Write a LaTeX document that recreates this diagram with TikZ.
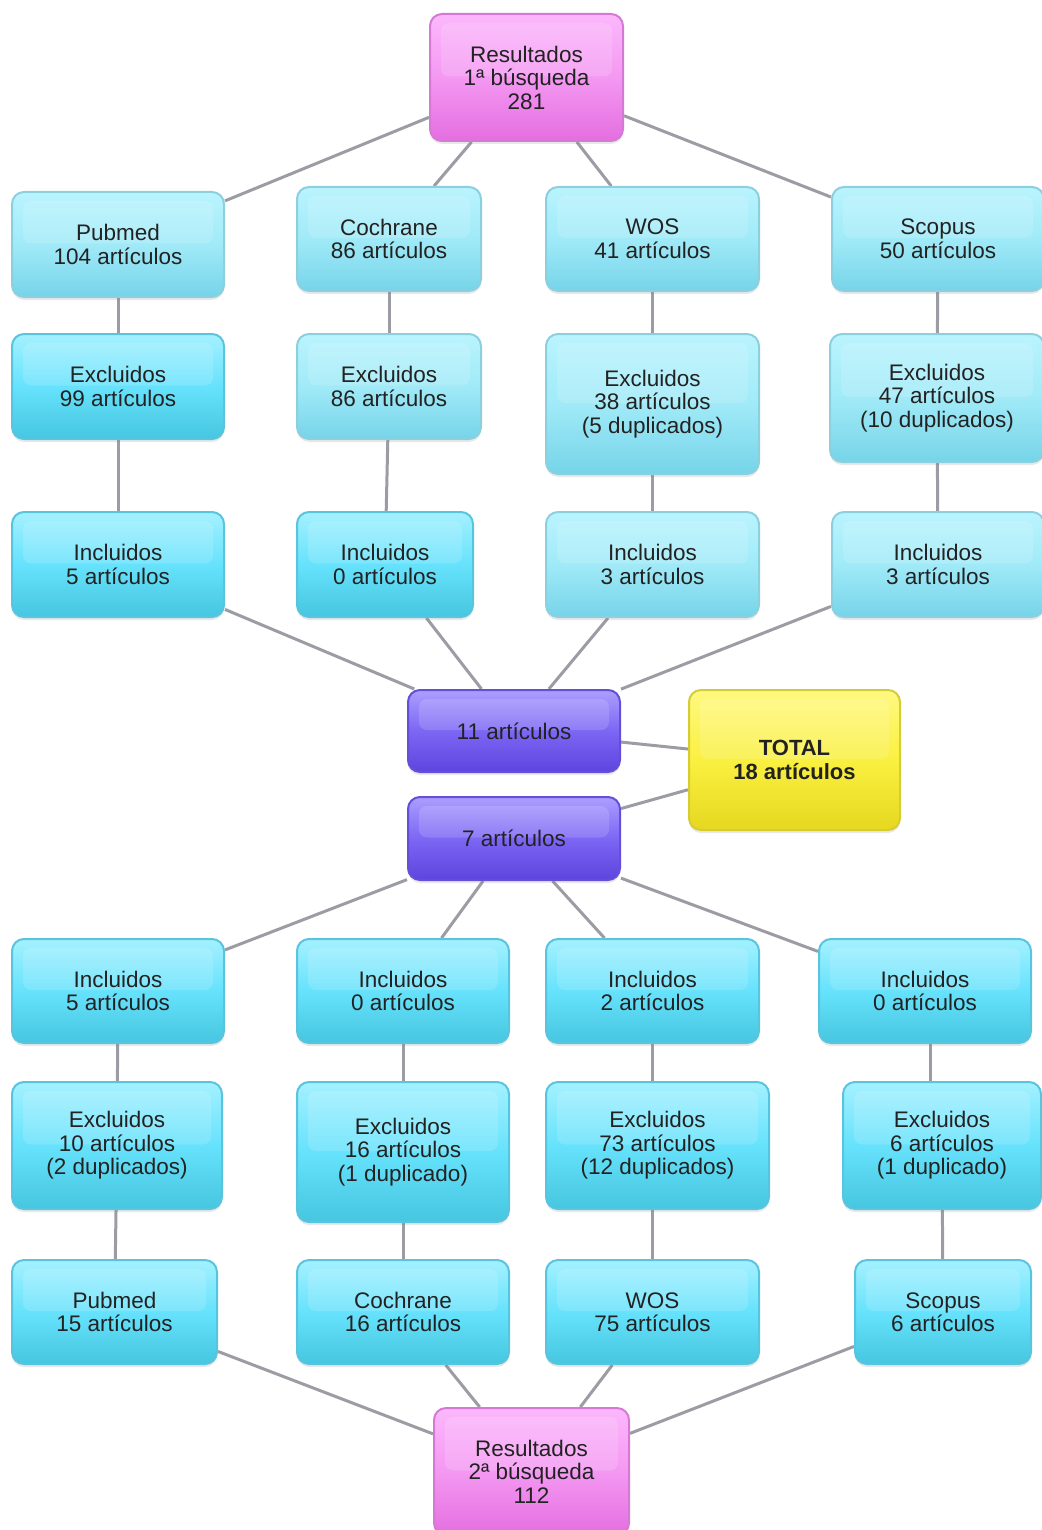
\documentclass[tikz,border=0pt]{standalone}
\usepackage{fontspec}
\newfontfamily\boxfont{Liberation Sans}
\usetikzlibrary{shadows,calc,backgrounds}
\definecolor{txt}{HTML}{222222}
\definecolor{lnc}{HTML}{9C9CA4}
\definecolor{paleT}{HTML}{BAF4FE}
\definecolor{paleM}{HTML}{A0EAF8}
\definecolor{paleBot}{HTML}{76D4E8}
\definecolor{paleD}{HTML}{8CD0E0}
\definecolor{brT}{HTML}{A4F1FF}
\definecolor{brM}{HTML}{66E2FC}
\definecolor{brBot}{HTML}{46C6E0}
\definecolor{brD}{HTML}{58C4DE}
\definecolor{pkT}{HTML}{FCB8FC}
\definecolor{pkM}{HTML}{F498F2}
\definecolor{pkBot}{HTML}{E46EE0}
\definecolor{pkD}{HTML}{D47AD4}
\definecolor{puT}{HTML}{AC9EFF}
\definecolor{puM}{HTML}{7C66F4}
\definecolor{puBot}{HTML}{5E44DE}
\definecolor{puD}{HTML}{6450D6}
\definecolor{yeT}{HTML}{FFF982}
\definecolor{yeM}{HTML}{FAF040}
\definecolor{yeBot}{HTML}{E6D820}
\definecolor{yeD}{HTML}{D6CC34}
\tikzset{
  boxbase/.style={rounded corners=12pt, line width=2pt, align=center, inner sep=0pt,
    font={\boxfont\fontsize{22.5}{23.5}\selectfont}, text=txt,
    drop shadow={opacity=0.18, shadow xshift=0pt, shadow yshift=-3pt},
    path picture={\fill[white,opacity=0.14,rounded corners=8pt]
      ($(path picture bounding box.north west)+(11,9)$) rectangle
      ($(path picture bounding box.east)+(-11,-1)$);}},
  pale/.style={boxbase, draw=paleD, top color=paleT, bottom color=paleBot, middle color=paleM},
  bright/.style={boxbase, draw=brD, top color=brT, bottom color=brBot, middle color=brM},
  pink/.style={boxbase, draw=pkD, top color=pkT, bottom color=pkBot, middle color=pkM},
  purp/.style={boxbase, draw=puD, top color=puT, bottom color=puBot, middle color=puM},
  yell/.style={boxbase, draw=yeD, top color=yeT, bottom color=yeBot, middle color=yeM,
    font={\boxfont\bfseries\fontsize{22}{23.5}\selectfont}},
  wh/.style args={#1x#2}{minimum width=#1pt, minimum height=#2pt},
  conn/.style={draw=lnc, line width=3pt}
}
\begin{document}
\begin{tikzpicture}[x=1pt,y=-1pt]
\useasboundingbox (0,0) rectangle (1041,1530);
% top
\node[pink,wh=193x127] (r1) at (526.5,77.5) {Resultados\\1ª búsqueda\\281};
\node[pale,wh=212x105] (s1) at (118,244.5) {Pubmed\\104 artículos};
\node[pale,wh=184x104] (c1) at (389,239) {Cochrane\\86 artículos};
\node[pale,wh=213x104] (w1) at (652.5,239) {WOS\\41 artículos};
\node[pale,wh=212x104] (sc1) at (938,239) {Scopus\\50 artículos};
\node[bright,wh=212x105] (e1) at (118,386.5) {Excluidos\\99 artículos};
\node[pale,wh=184x105] (e2) at (389,386.5) {Excluidos\\86 artículos};
\node[pale,wh=213x140] (e3) at (652.5,404) {Excluidos\\38 artículos\\(5 duplicados)};
\node[pale,wh=214x128] (e4) at (937,398) {Excluidos\\47 artículos\\(10 duplicados)};
\node[bright,wh=212x105] (i1) at (118,564.5) {Incluidos\\5 artículos};
\node[bright,wh=176x105] (i2) at (385,564.5) {Incluidos\\0 artículos};
\node[pale,wh=213x105] (i3) at (652.5,564.5) {Incluidos\\3 artículos};
\node[pale,wh=212x105] (i4) at (938,564.5) {Incluidos\\3 artículos};
% middle
\node[purp,wh=212x82] (m11) at (514,731) {11 artículos};
\node[yell,wh=211x140] (tot) at (794.5,760) {TOTAL\\18 artículos};
\node[purp,wh=212x83] (m7) at (514,838.5) {7 artículos};
% bottom
\node[bright,wh=212x104] (j1) at (118,991) {Incluidos\\5 artículos};
\node[bright,wh=212x104] (j2) at (403,991) {Incluidos\\0 artículos};
\node[bright,wh=213x104] (j3) at (652.5,991) {Incluidos\\2 artículos};
\node[bright,wh=212x104] (j4) at (925,991) {Incluidos\\0 artículos};
\node[bright,wh=210x127] (f1) at (117,1145.5) {Excluidos\\10 artículos\\(2 duplicados)};
\node[bright,wh=212x140] (f2) at (403,1152) {Excluidos\\16 artículos\\(1 duplicado)};
\node[bright,wh=223x127] (f3) at (657.5,1145.5) {Excluidos\\73 artículos\\(12 duplicados)};
\node[bright,wh=198x127] (f4) at (942,1145.5) {Excluidos\\6 artículos\\(1 duplicado)};
\node[bright,wh=205x104] (b1) at (114.5,1312) {Pubmed\\15 artículos};
\node[bright,wh=212x104] (b2) at (403,1312) {Cochrane\\16 artículos};
\node[bright,wh=213x104] (b3) at (652.5,1312) {WOS\\75 artículos};
\node[bright,wh=176x104] (b4) at (943,1312) {Scopus\\6 artículos};
\node[pink,wh=195x127] (r2) at (531.5,1471.5) {Resultados\\2ª búsqueda\\112};
\begin{pgfonlayer}{background}
\foreach \a/\b in {r1/s1,r1/c1,r1/w1,r1/sc1,s1/e1,c1/e2,w1/e3,sc1/e4,e1/i1,e2/i2,e3/i3,e4/i4,
  i1/m11,i2/m11,i3/m11,i4/m11,m11/tot,m7/tot,m7/j1,m7/j2,m7/j3,m7/j4,
  j1/f1,j2/f2,f1/b1,f2/b2,f4/b4,b1/r2,b2/r2,b3/r2,b4/r2}
  \draw[conn] (\a) -- (\b);
\draw[conn] (j3.south) -- (j3.south |- f3.north);
\draw[conn] (b3.north) -- (b3.north |- f3.south);
\draw[conn] ([xshift=5pt]j4.south) -- ([xshift=5pt]j4.south |- f4.north);
\end{pgfonlayer}
\end{tikzpicture}
\end{document}
